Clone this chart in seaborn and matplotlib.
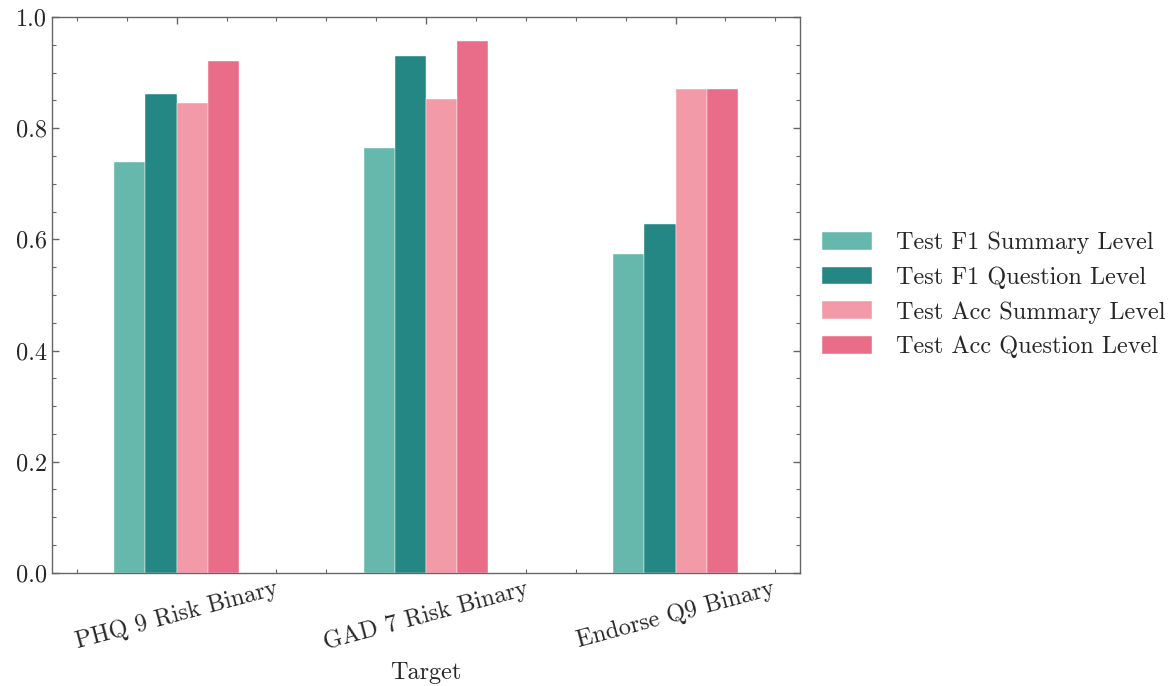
import pandas as pd
import seaborn as sns
import matplotlib.pyplot as plt
from matplotlib.ticker import AutoMinorLocator

targets = ['PHQ 9 Risk Binary', 'GAD 7 Risk Binary', 'Endorse Q9 Binary']
metrics = ['Test F1 Summary Level', 'Test F1 Question Level',
           'Test Acc Summary Level', 'Test Acc Question Level']
f1_summary = [0.740, 0.764, 0.574]
f1_question = [0.861, 0.930, 0.628]
acc_summary = [0.845, 0.853, 0.870]
acc_question = [0.921, 0.957, 0.870]
palette = ['#66b8ac', '#248783', '#f29aa8', '#e96d88']

rows = []
for m, vals in zip(metrics, [f1_summary, f1_question, acc_summary, acc_question]):
    for t, v in zip(targets, vals):
        rows.append({'Target': t, 'Metric': m, 'Score': v})
df = pd.DataFrame(rows)

sns.set_style('ticks')
plt.rcParams['font.family'] = ['cmr10', 'DejaVu Serif']
plt.rcParams['axes.formatter.use_mathtext'] = True
fs = 17.5

fig, ax = plt.subplots(figsize=(11.7, 6.86), dpi=100)
fig.subplots_adjust(left=0.0444, right=0.684, top=0.975, bottom=0.165)

sns.barplot(data=df, x='Target', y='Score', hue='Metric', hue_order=metrics,
            order=targets, palette=palette, width=0.5, saturation=1,
            edgecolor='white', linewidth=0.3, ax=ax)

ax.set_xlim(-0.5, 2.5)
ax.set_ylim(0, 1.0)
ax.set_ylabel('')
ax.set_xlabel('Target', fontsize=fs, labelpad=6)
ax.set_yticks([0, 0.2, 0.4, 0.6, 0.8, 1.0])
ax.set_yticklabels(['0.0', '0.2', '0.4', '0.6', '0.8', '1.0'])
ax.xaxis.set_minor_locator(AutoMinorLocator(5))
ax.yaxis.set_minor_locator(AutoMinorLocator(4))
ax.tick_params(which='both', direction='in', top=True, right=True, color='#666666')
ax.tick_params(which='major', length=5, width=1, labelsize=fs)
ax.tick_params(which='minor', length=3, width=0.8)
plt.setp(ax.get_xticklabels(), rotation=15, ha='center')
for s in ax.spines.values():
    s.set_color('#666666')
    s.set_linewidth(1.0)

ax.legend(loc='center left', bbox_to_anchor=(1.0, 0.5), frameon=False,
          fontsize=fs, handlelength=2.05, handleheight=0.75,
          handletextpad=1.0, title=None)

fig.savefig('out.png', dpi=100)
